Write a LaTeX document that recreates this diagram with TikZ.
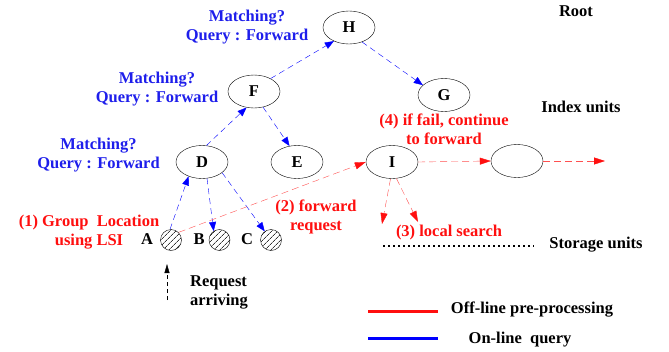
\documentclass[tikz,border=0pt]{standalone}
\usepackage{fontspec}
\setmainfont{Liberation Serif}
\usepackage{tikz}
\usetikzlibrary{arrows.meta, shapes.geometric, positioning, patterns.meta}
\definecolor{qryblue}{RGB}{30, 30, 235}
\definecolor{prered}{RGB}{255, 15, 15}
\definecolor{arrred}{RGB}{255, 80, 80}
\tikzset{
	unit/.style={draw, thin, ellipse, minimum width=52pt, minimum height=33pt, inner sep=0pt},
	grp/.style={draw, thin, circle, minimum size=21pt, inner sep=0pt,
		pattern={Lines[angle=45, distance=4pt, line width=0.7pt]}, pattern color=black!80},
	qry/.style={draw=blue, thin, dash pattern=on 6pt off 4pt, -{Triangle[length=9pt,width=7pt]}, blue},
	pre/.style={draw=arrred, thin, dash pattern=on 7pt off 4pt, -{Triangle[length=11pt,width=7pt,color=prered]}},
	bluetxt/.style={text=qryblue, align=center},
	redtxt/.style={text=prered, align=center}
}
\begin{document}
\begin{tikzpicture}[x=1pt, y=-1pt, font=\fontsize{16.5}{19}\selectfont\bfseries]
	\useasboundingbox (0,0) rectangle (669,351);
	% index units
	\node[unit] (H) at (349,27.5) {H};
	\node[unit] (F) at (254,91.5) {F};
	\node[unit] (G) at (444,95) {G};
	\node[unit] (D) at (202,162) {D};
	\node[unit] (E) at (297,162) {E};
	\node[unit] (I) at (392,162) {I};
	\node[unit] (J) at (517,161) {};
	\coordinate (Jout) at (605,161);
	% storage groups
	\node[grp] (A) at (171,240) {};
	\node[grp] (B) at (219.5,240) {};
	\node[grp] (C) at (271,240) {};
	\node at (147,239) {A};
	\node at (199,239) {B};
	\node at (247,239) {C};
	% on-line query
	\draw[qry] (A.95) -- (D.227);
	\draw[qry] (D.75) -- (F.245);
	\draw[qry] (F.38) -- (H.222);
	\draw[qry] (H.312) -- (G.155);
	\draw[qry] (F.300) -- (E.115);
	\draw[qry] (D.287) -- (B.123);
	\draw[qry] (D.332) -- (C.126);
	% off-line pre-processing
	\coordinate (ls1) at (382,224);
	\coordinate (ls2) at (418,222);
	\draw[pre] (A.north east) -- (I.west);
	\draw[pre] (I.265) -- (ls1);
	\draw[pre] (I.285) -- (ls2);
	\draw[pre] (I.east) -- (J.west);
	\draw[pre] (J.east) -- (Jout);
	% labels
	\node[bluetxt] at (247,27) {Matching?\\Query : Forward};
	\node[bluetxt] at (157,89) {Matching?\\Query : Forward};
	\node[bluetxt] at (98.5,155) {Matching?\\Query : Forward};
	\node[redtxt] at (444,129) {(4) if fail, continue\\to forward};
	\node[redtxt] at (89,232) {(1) Group\ \ Location\\using LSI};
	\node[redtxt] at (316,217) {(2) forward\\request};
	\node[redtxt] at (449,233) {(3) local search};
	\node at (576,11) {Root};
	\node at (581,107) {Index units};
	\node at (596,245) {Storage units};
	\draw[line width=2pt, dash pattern=on 2pt off 3pt] (383,246) -- (534,246);
	% incoming request
	\coordinate (rq0) at (167,300);
	\coordinate (rq1) at (167,264);
	\draw[dash pattern=on 4pt off 3pt, -{Triangle[length=9pt,width=5pt]}] (rq0) -- (rq1);
	\node[align=left] at (219,292) {Request\\arriving};
	% legend
	\draw[prered, line width=3pt] (368,311) -- (438,311);
	\draw[blue, line width=3pt] (368,338) -- (438,338);
	\node at (532,310) {Off-line pre-processing};
	\node at (520,340) {On-line\ \ query};
\end{tikzpicture}
\end{document}
